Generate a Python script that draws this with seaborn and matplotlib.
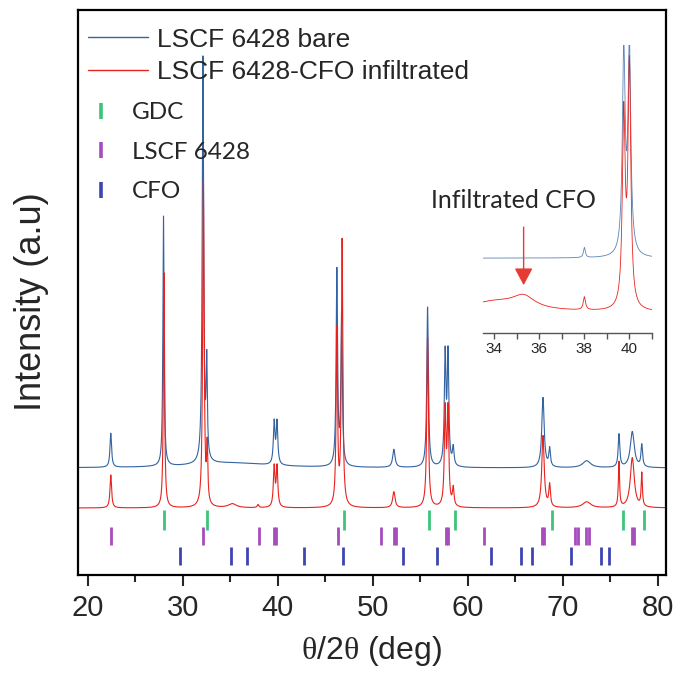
import numpy as np
import pandas as pd
import matplotlib
matplotlib.use("Agg")
import matplotlib.pyplot as plt
from matplotlib.lines import Line2D
import seaborn as sns

# peak lists: position (deg), height (a.u.), fwhm (deg)
bare_pos = [22.4, 27.95, 32.1, 32.5, 35.0, 39.6, 39.9, 46.2, 46.7, 52.2, 55.75, 57.6, 57.9,
            58.45, 67.9, 68.6, 72.5, 75.9, 77.3, 78.3]
bare_h = [34, 250, 405, 95, 5, 42, 42, 195, 150, 18, 160, 110, 110, 18, 70, 18, 7, 33, 36, 22]
bare_w = [0.2, 0.15, 0.18, 0.15, 10.0, 0.2, 0.2, 0.18, 0.18, 0.3, 0.2, 0.2, 0.2, 0.2, 0.3, 0.2,
          1.0, 0.2, 0.5, 0.2]
bare_base = 107

cfo_pos = [22.4, 28.0, 32.15, 32.55, 35.2, 37.9, 39.6, 39.9, 46.2, 46.75, 52.2, 55.75, 57.6,
           57.9, 58.45, 67.9, 68.6, 72.5, 75.9, 77.3, 78.3]
cfo_h = [33, 235, 325, 55, 4, 3, 40, 40, 175, 265, 16, 170, 95, 95, 18, 72, 22, 6, 45, 50, 33]
cfo_w = [0.2, 0.15, 0.18, 0.15, 1.0, 0.2, 0.2, 0.2, 0.18, 0.18, 0.3, 0.2, 0.2, 0.2, 0.2, 0.3,
         0.2, 1.0, 0.15, 0.5, 0.15]
cfo_base = 67

# inset (33.5-41 deg) peak lists
ins_bare_pos = [38.0, 39.75, 40.0]
ins_bare_h = [10, 200, 205]
ins_bare_w = [0.1, 0.15, 0.15]
ins_bare_base = 75

ins_cfo_pos = [34.0, 35.3, 38.0, 39.75, 40.0]
ins_cfo_h = [10, 12, 13, 190, 240]
ins_cfo_w = [3.0, 1.2, 0.12, 0.15, 0.15]
ins_cfo_base = 21

# reference pattern positions
gdc_ref = [28.0, 32.5, 46.9, 55.9, 58.6, 68.9, 76.3, 78.5]
lscf_ref = [22.4, 32.1, 38.0, 39.6, 39.8, 46.3, 50.9, 52.2, 52.4, 57.7, 57.9, 61.7, 67.8, 68.0,
            71.3, 71.6, 72.4, 72.7, 77.3, 77.5]
cfo_ref = [29.7, 35.1, 36.7, 42.7, 46.8, 53.2, 56.7, 62.4, 65.6, 66.7, 70.8, 74.0, 74.9]

c_bare = "#3363a0"
c_cfo = "#e8231f"
c_gdc = "#3cc47a"
c_lscf = "#a64cbd"
c_cforef = "#3f45b0"


def pattern(x, pos, h, w, base):
    y = np.full_like(x, float(base))
    for p, a, f in zip(pos, h, w):
        y += a / (1 + ((x - p) / (f / 2)) ** 2)
    return y


sns.set_style("ticks")
plt.rcParams["font.family"] = ["Liberation Sans", "DejaVu Sans"]
plt.rcParams["mathtext.fontset"] = "custom"
plt.rcParams["mathtext.rm"] = "Liberation Serif"

tt = np.arange(19.0, 81.0, 0.01)
df = pd.DataFrame({
    "tt": np.concatenate([tt, tt]),
    "I": np.concatenate([pattern(tt, bare_pos, bare_h, bare_w, bare_base),
                         pattern(tt, cfo_pos, cfo_h, cfo_w, cfo_base)]),
    "sample": ["LSCF 6428 bare"] * len(tt) + ["LSCF 6428-CFO infiltrated"] * len(tt),
})

fig = plt.figure(figsize=(6.75, 6.75), dpi=100)
ax = fig.add_axes([78 / 675, 100 / 675, 588 / 675, 565 / 675])
sns.lineplot(data=df, x="tt", y="I", hue="sample", palette=[c_bare, c_cfo],
             estimator=None, linewidth=0.8, legend=False, ax=ax)

ax.vlines(gdc_ref, 45, 65, color=c_gdc, lw=2.0)
ax.vlines(lscf_ref, 30, 48, color=c_lscf, lw=2.0)
ax.vlines(cfo_ref, 10, 28, color=c_cforef, lw=2.0)

ax.set_xlim(18.95, 80.85)
ax.set_ylim(0, 565)
ax.set_yticks([])
ax.set_xticks(range(20, 81, 10))
ax.set_xticks(range(25, 80, 10), minor=True)
ax.tick_params(axis="x", which="major", length=8, width=1.5, direction="out", pad=6,
               labelsize=21)
ax.tick_params(axis="x", which="minor", length=5, width=1.5, direction="out")
for s in ax.spines.values():
    s.set_linewidth(1.6)
    s.set_color("black")

ax.set_xlabel(r"$\mathrm{\theta}$/2$\mathrm{\theta}$ (deg)", fontsize=23, labelpad=8)
ax.set_ylabel("Intensity (a.u)", fontsize=26)
ax.yaxis.set_label_coords(-0.05, 0.483)

# legends
h1 = [Line2D([], [], color=c_bare, lw=1.0), Line2D([], [], color=c_cfo, lw=1.0)]
leg1 = ax.legend(h1, ["LSCF 6428 bare", "LSCF 6428-CFO infiltrated"], loc="upper left",
                 bbox_to_anchor=(0.017, 0.969), frameon=False, fontsize=19,
                 handlelength=2.27, handletextpad=0.34, labelspacing=0.32,
                 borderpad=0, borderaxespad=0)
ax.add_artist(leg1)
h2 = [Line2D([], [], color=c, ls="none", marker="|", markersize=11, markeredgewidth=2.6)
      for c in [c_gdc, c_lscf, c_cforef]]
ax.legend(h2, ["GDC", "LSCF 6428", "CFO"], loc="upper left", bbox_to_anchor=(0.019, 0.837),
          frameon=False, prop={"family": "Lato", "size": 17.5}, handlelength=1.0,
          handletextpad=0.75, labelspacing=0.76, borderpad=0, borderaxespad=0)

# inset
ins = ax.inset_axes([0.689, 0.428, 0.287, 0.51])
ti = np.arange(33.5, 41.0, 0.005)
dfi = pd.DataFrame({
    "tt": np.concatenate([ti, ti]),
    "I": np.concatenate([pattern(ti, ins_bare_pos, ins_bare_h, ins_bare_w, ins_bare_base),
                         pattern(ti, ins_cfo_pos, ins_cfo_h, ins_cfo_w, ins_cfo_base)]),
    "sample": ["bare"] * len(ti) + ["cfo"] * len(ti),
})
sns.lineplot(data=dfi, x="tt", y="I", hue="sample", palette=["#5b84b8", c_cfo],
             estimator=None, linewidth=0.6, legend=False, ax=ins)
ins.set_facecolor("none")
ins.set_xlim(33.5, 41.0)
ins.set_ylim(0, 288)
ins.set_yticks([])
ins.set_xticks([34, 36, 38, 40])
ins.set_xticks([35, 37, 39, 41], minor=True)
ins.set_xlabel("")
ins.set_ylabel("")
for side in ["top", "right", "left"]:
    ins.spines[side].set_visible(False)
ins.spines["bottom"].set_color("#555555")
ins.spines["bottom"].set_linewidth(1.0)
ins.tick_params(axis="x", which="both", length=4, width=1.0, color="#555555",
                labelsize=11, pad=2)
ins.annotate("", xy=(35.3, 48), xytext=(35.3, 106),
             arrowprops=dict(arrowstyle="-|>,head_length=0.75,head_width=0.4",
                             color="#e83a35", lw=1.0, mutation_scale=14, shrinkA=0, shrinkB=0))
ins.text(31.2, 133, "Infiltrated CFO", fontsize=18, family="Lato", va="center", ha="left")

fig.savefig("out.png", dpi=100)
